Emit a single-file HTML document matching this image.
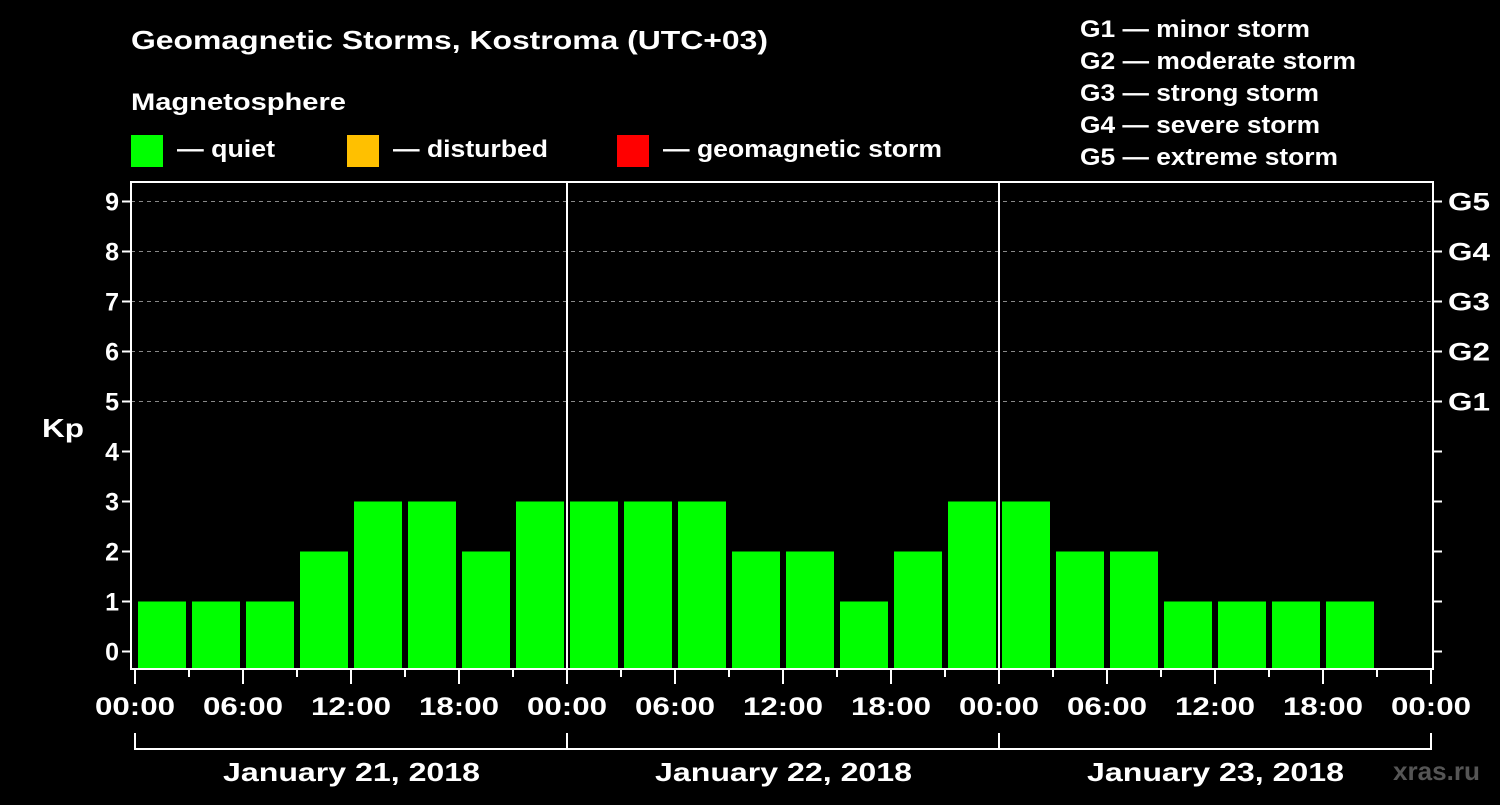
<!DOCTYPE html>
<html><head><meta charset="utf-8"><style>
body{margin:0;background:#000;width:1500px;height:800px;overflow:hidden}
text{font-family:"Liberation Sans",Arial,sans-serif;font-weight:bold;fill:#fff}
</style></head><body>
<svg id="chart" width="1500" height="800" xmlns="http://www.w3.org/2000/svg" font-family="Liberation Sans, Arial, sans-serif" font-weight="bold">
<text x="131" y="49" font-size="26" textLength="637" lengthAdjust="spacingAndGlyphs">Geomagnetic Storms, Kostroma (UTC+03)</text>
<text x="131" y="110" font-size="24" textLength="215" lengthAdjust="spacingAndGlyphs">Magnetosphere</text>
<g>
<rect x="131" y="135" width="32" height="32" fill="#00ff00"/>
<text x="177" y="157" font-size="24" textLength="98" lengthAdjust="spacingAndGlyphs">— quiet</text>
<rect x="347" y="135" width="32" height="32" fill="#ffc000"/>
<text x="393" y="157" font-size="24" textLength="155" lengthAdjust="spacingAndGlyphs">— disturbed</text>
<rect x="617" y="135" width="32" height="32" fill="#ff0000"/>
<text x="663" y="157" font-size="24" textLength="279" lengthAdjust="spacingAndGlyphs">— geomagnetic storm</text>
</g>
<g font-size="24">
<text x="1080" y="37" textLength="230" lengthAdjust="spacingAndGlyphs">G1 — minor storm</text>
<text x="1080" y="69" textLength="276" lengthAdjust="spacingAndGlyphs">G2 — moderate storm</text>
<text x="1080" y="101" textLength="239" lengthAdjust="spacingAndGlyphs">G3 — strong storm</text>
<text x="1080" y="133" textLength="240" lengthAdjust="spacingAndGlyphs">G4 — severe storm</text>
<text x="1080" y="165" textLength="258" lengthAdjust="spacingAndGlyphs">G5 — extreme storm</text>
</g>
<text x="42" y="437" font-size="26" textLength="42" lengthAdjust="spacingAndGlyphs">Kp</text>
<text x="1393" y="780" font-size="26" textLength="87" lengthAdjust="spacingAndGlyphs" style="fill:#555">xras.ru</text>
<g id="grid"></g><g id="bars"></g><g id="axes"></g>
</svg>
<script>
const kpValues=[1,1,1,2,3,3,2,3, 3,3,3,2,2,1,2,3, 3,2,2,1,1,1,1];
const yTickLabels=["0","1","2","3","4","5","6","7","8","9"];
const gLabels=["G1","G2","G3","G4","G5"];
const timeLabels=["00:00","06:00","12:00","18:00"];
const dayLabels=["January 21, 2018","January 22, 2018","January 23, 2018"];
const NS="http://www.w3.org/2000/svg";
const X0=135, HOURW=18, PL=131, PR=1433, PT=182, PB=669;
function xH(h){return X0+h*HOURW;}
function yV(v){return 651.5-50*v;}
function mk(tag,attrs,parent,txt){const e=document.createElementNS(NS,tag);for(const k in attrs)e.setAttribute(k,attrs[k]);if(txt!==undefined)e.textContent=txt;parent.appendChild(e);return e;}
const gridG=document.getElementById('grid'),barsG=document.getElementById('bars'),axesG=document.getElementById('axes');
for(let v=5;v<=9;v++){const l=mk('line',{x1:PL,x2:PR,y1:yV(v),y2:yV(v),stroke:'#888','stroke-dasharray':'4,4','stroke-width':1},gridG);

}
kpValues.forEach(function(v,i){const r=mk('rect',{x:xH(i*3)+3,y:yV(v),width:48,height:PB-1-yV(v),fill:v>=5?'#ff0000':(v>=4?'#ffc000':'#00ff00')},barsG);

});
const fr=mk('rect',{x:PL,y:PT,width:PR-PL,height:PB-PT,fill:'none',stroke:'#fff','stroke-width':2},axesG);


for(let d=1;d<dayLabels.length;d++){const l=mk('line',{x1:xH(d*24),x2:xH(d*24),y1:PT,y2:PB,stroke:'#fff','stroke-width':2},axesG);

}
yTickLabels.forEach(function(t,v){mk('line',{x1:PL-9,x2:PL,y1:yV(v),y2:yV(v),stroke:'#fff','stroke-width':2},axesG);
mk('line',{x1:PR,x2:PR+9,y1:yV(v),y2:yV(v),stroke:'#fff','stroke-width':2},axesG);
const tx=mk('text',{x:PL-12,y:yV(v)+9,'font-size':25,'text-anchor':'end'},axesG,t);

});
gLabels.forEach(function(g,i){const tx=mk('text',{x:1448,y:yV(i+5)+9,'font-size':25,textLength:42,lengthAdjust:'spacingAndGlyphs'},axesG,g);

});
for(let h=0;h<=72;h+=3){const major=h%6===0;mk('line',{x1:xH(h),x2:xH(h),y1:PB,y2:PB+(major?15:8),stroke:'#fff','stroke-width':2},axesG);
if(major){const tx=mk('text',{x:xH(h)-40,y:715,'font-size':25,textLength:80,lengthAdjust:'spacingAndGlyphs'},axesG,timeLabels[(h/6)%4]);

}}
mk('line',{x1:xH(0),x2:xH(72),y1:749,y2:749,stroke:'#fff','stroke-width':2},axesG);
for(let d=0;d<=dayLabels.length;d++)mk('line',{x1:xH(d*24),x2:xH(d*24),y1:733,y2:750,stroke:'#fff','stroke-width':2},axesG);
dayLabels.forEach(function(t,d){const tx=mk('text',{x:xH(d*24+12)-128,y:781,'font-size':26,textLength:257,lengthAdjust:'spacingAndGlyphs'},axesG,t);

});
</script>
</body></html>
